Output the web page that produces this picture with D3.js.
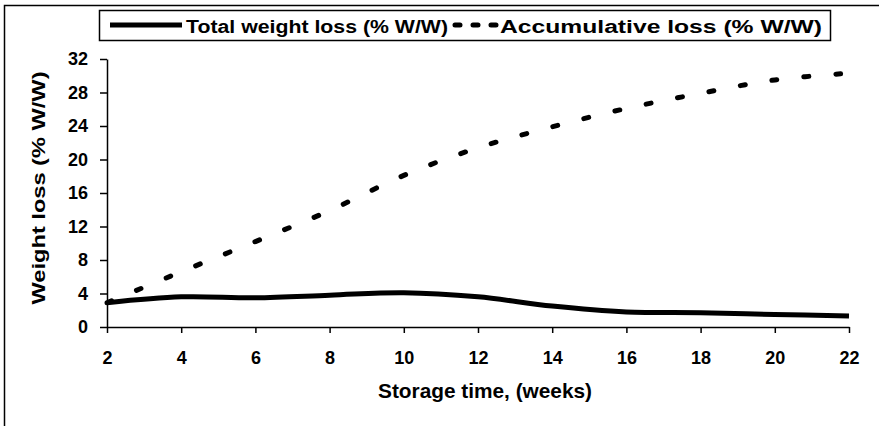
<!DOCTYPE html>
<html>
<head>
<meta charset="utf-8">
<script src="https://cdn.jsdelivr.net/npm/d3@7"></script>
<style>
    body { margin: 0; background: #fff; }
    text { font-family: "Liberation Sans", Arial, sans-serif; font-weight: bold; fill: #000; }
</style>
</head>
<body>
<svg id="chart" width="879" height="426"></svg>
<script>
// data
const weeks = [2, 4, 6, 8, 10, 12, 14, 16, 18, 20, 22]
const totalLoss = [2.9, 3.6, 3.5, 3.8, 4.1, 3.6, 2.5, 1.8, 1.7, 1.5, 1.3]
const accumLoss = [2.9, 6.6, 10.2, 13.9, 18.1, 21.4, 23.9, 26.1, 27.9, 29.5, 30.3]
const yTicks = [0, 4, 8, 12, 16, 20, 24, 28, 32]
const xTicks = [2, 4, 6, 8, 10, 12, 14, 16, 18, 20, 22]
const seriesNames = ["Total weight loss (% W/W)", "Accumulative loss (% W/W)"]
const xTitle = "Storage time, (weeks)"
const yTitle = "Weight loss (% W/W)"

// set the dimensions and margins of the graph
const margin = {top: 59, right: 30, bottom: 99, left: 107},
    width = 879 - margin.left - margin.right,
    height = 426 - margin.top - margin.bottom;

const root = d3.select("#chart")

// outer frame of the scanned figure
root.append("rect")
    .attr("x", 4.5).attr("y", 5.5)
    .attr("width", 900).attr("height", 500)
    .attr("fill", "none")
    .attr("stroke", "#000")
    .attr("stroke-width", 1.5)

const svg = root.append("g")
    .attr("transform", `translate(${margin.left},${margin.top})`)

const x = d3.scaleLinear()
    .domain([2, 22])
    .range([0, width]);

const y = d3.scaleLinear()
    .domain([0, 32])
    .range([height, 0]);

// x axis
const xAxis = svg.append("g")
    .attr("transform", `translate(0,${height})`)
    .call(d3.axisBottom(x).tickValues(xTicks).tickSize(6).tickSizeOuter(0).tickPadding(18))
xAxis.selectAll("text").style("font-size", "18px")

// y axis
const yAxis = svg.append("g")
    .call(d3.axisLeft(y).tickValues(yTicks).tickSize(7).tickSizeOuter(0).tickPadding(12))
yAxis.selectAll("text").style("font-size", "18px")

svg.selectAll(".domain, .tick line").attr("stroke", "#000").attr("stroke-width", 1.5)

// axis titles
svg.append("text")
    .attr("x", width / 2 + 7)
    .attr("y", height + 71)
    .attr("text-anchor", "middle")
    .style("font-size", "21px")
    .attr("textLength", 214)
    .attr("lengthAdjust", "spacingAndGlyphs")
    .text(xTitle)

svg.append("text")
    .attr("transform", `translate(${45 - margin.left},${height / 2 - 5}) rotate(-90)`)
    .attr("text-anchor", "middle")
    .style("font-size", "19px")
    .attr("textLength", 233)
    .attr("lengthAdjust", "spacingAndGlyphs")
    .text(yTitle)

const lineGen = d3.line()
    .curve(d3.curveCatmullRom)
    .x((d, i) => x(weeks[i]))
    .y(d => y(d))

// accumulative loss, dashed
svg.append("path")
    .datum(accumLoss)
    .attr("fill", "none")
    .attr("stroke", "#000")
    .attr("stroke-width", 5)
    .attr("stroke-linecap", "round")
    .attr("stroke-dasharray", "5,27")
    .attr("d", lineGen)

// total weight loss, solid
svg.append("path")
    .datum(totalLoss)
    .attr("fill", "none")
    .attr("stroke", "#000")
    .attr("stroke-width", 5)
    .attr("stroke-linejoin", "round")
    .attr("d", lineGen)

// legend box
const legend = root.append("g")
legend.append("rect")
    .attr("x", 99.5).attr("y", 10.5)
    .attr("width", 731).attr("height", 30)
    .attr("fill", "#fff")
    .attr("stroke", "#000")
    .attr("stroke-width", 1.5)

legend.append("line")
    .attr("x1", 110).attr("x2", 182)
    .attr("y1", 25).attr("y2", 25)
    .attr("stroke", "#000").attr("stroke-width", 5)
legend.append("text")
    .attr("x", 186).attr("y", 33)
    .style("font-size", "18px")
    .attr("textLength", 262)
    .attr("lengthAdjust", "spacingAndGlyphs")
    .text(seriesNames[0])

legend.append("line")
    .attr("x1", 455).attr("x2", 497)
    .attr("y1", 25).attr("y2", 25)
    .attr("stroke", "#000").attr("stroke-width", 5)
    .attr("stroke-linecap", "round")
    .attr("stroke-dasharray", "5,13")
legend.append("text")
    .attr("x", 500).attr("y", 33)
    .style("font-size", "18px")
    .attr("textLength", 322)
    .attr("lengthAdjust", "spacingAndGlyphs")
    .text(seriesNames[1])
</script>
</body>
</html>
